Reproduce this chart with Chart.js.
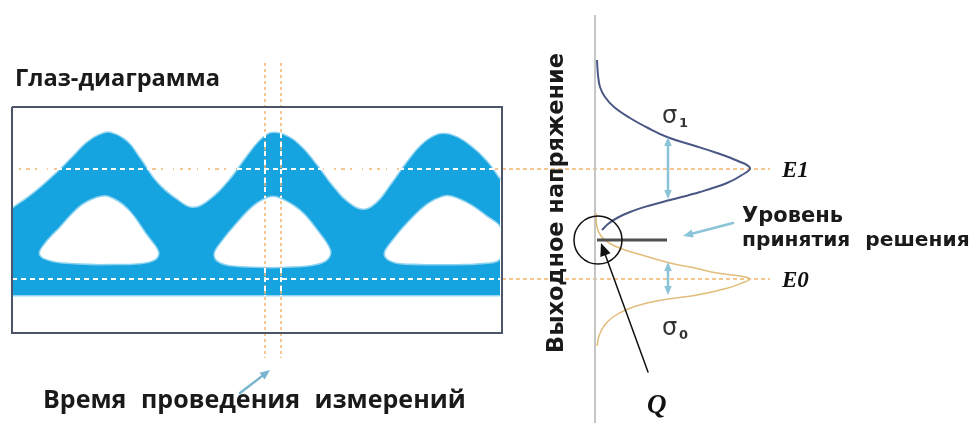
<!DOCTYPE html>
<html>
<head>
<meta charset="utf-8">
<script src="https://cdn.jsdelivr.net/npm/chart.js@4.4.0/dist/chart.umd.min.js"></script>
<style>
  html, body { margin: 0; padding: 0; background: #fff; }
  canvas { display: block; }
</style>
</head>
<body>
<canvas id="eyeChart" width="973" height="423"></canvas>
<script>
// --- data (x = time / position, y = output voltage, screen-like units) ---
const eyeTop = [
  {x:12,y:209},{x:33,y:194},{x:57,y:173},{x:73,y:157},{x:87,y:143},{x:100,y:135},{x:110,y:133},
  {x:127,y:142},{x:140,y:159},{x:157,y:183},{x:177,y:200},{x:193,y:208},{x:210,y:200},{x:230,y:180},
  {x:247,y:157},{x:262,y:139},{x:273,y:133},{x:288,y:137},{x:302,y:148},{x:317,y:166},{x:332,y:186},
  {x:347,y:202},{x:363,y:210},{x:377,y:203},{x:392,y:184},{x:407,y:163},{x:421,y:146},{x:433,y:137},
  {x:443,y:134},{x:456,y:137},{x:470,y:146},{x:486,y:161},{x:500,y:180}
];
const eyeBottom = 295;

const eyeHole1 = [
  {x:100,y:264},{x:60,y:262},{x:44,y:258},{x:40,y:253},{x:46,y:243},{x:60,y:228},{x:80,y:207},
  {x:97,y:198},{x:108,y:197},{x:127,y:209},{x:147,y:236},{x:158,y:252},{x:155,y:259},{x:140,y:263},{x:100,y:264}
];
const eyeHole2 = [
  {x:273,y:267},{x:230,y:265},{x:217,y:260},{x:215,y:253},{x:222,y:242},{x:235,y:226},{x:253,y:207},
  {x:268,y:198},{x:278,y:198},{x:300,y:211},{x:318,y:232},{x:330,y:251},{x:326,y:260},{x:310,y:265},{x:273,y:267}
];
const eyeHole3 = [
  {x:443,y:264},{x:400,y:263},{x:388,y:259},{x:385,y:253},{x:392,y:242},{x:407,y:224},{x:427,y:205},
  {x:443,y:197},{x:452,y:197},{x:470,y:205},{x:487,y:217},{x:500,y:228},{x:500,y:258},{x:480,y:263},{x:443,y:264}
];

const sigma1Curve = [
  {x:597,y:60},{x:598,y:75},{x:600,y:87},{x:605,y:97},{x:614,y:107},{x:630,y:118},{x:648,y:128},
  {x:667,y:137},{x:692,y:145},{x:717,y:153},{x:738,y:161},{x:750,y:168},{x:742,y:175},{x:727,y:183},
  {x:700,y:192},{x:670,y:200},{x:648,y:206},{x:630,y:212},{x:617,y:218},{x:608,y:224},{x:602,y:230}
];
const sigma0Curve = [
  {x:596,y:213},{x:597,y:227},{x:601,y:236},{x:609,y:243},{x:622,y:249},{x:645,y:256},{x:670,y:263},
  {x:695,y:268},{x:717,y:273},{x:740,y:276},{x:750,y:279},{x:742,y:283},{x:728,y:288},{x:697,y:295},
  {x:668,y:299},{x:647,y:303},{x:628,y:309},{x:613,y:317},{x:604,y:326},{x:599,y:336},{x:597,y:346}
];

const levelNames = ['E1', 'E0'];
const levelValues = [169, 279];
const sampleTimes = [265, 281];
const decisionLevel = 240;

// --- colours ---
const BAND = '#16a4e0';
const BAND_SOFT = 'rgba(22,164,224,0.45)';
const ORANGE = '#f1b46e';
const LIGHT = '#8bc3d9';

const line = (data, extra) => Object.assign({
  data, borderWidth: 1.5, pointRadius: 0, tension: 0, fill: false
}, extra);

const datasets = [];

// orange level lines, under the eye band
levelValues.forEach(v => datasets.push(line([{x:12,y:v},{x:770,y:v}],
  {borderColor: ORANGE, borderDash: [4, 3], order: 30})));

// eye band and the openings (soft borders imitate the blurred edges)
datasets.push(line(eyeTop, {borderColor: BAND_SOFT, backgroundColor: BAND, borderWidth: 3,
  tension: 0.4, fill: {value: eyeBottom}, order: 20}));
datasets.push(line([{x:12,y:eyeBottom},{x:500,y:eyeBottom}], {borderColor: BAND_SOFT, borderWidth: 3, order: 20}));
[eyeHole1, eyeHole2, eyeHole3].forEach(h => datasets.push(line(h, {
  borderColor: 'rgba(255,255,255,0.5)', backgroundColor: '#fff', borderWidth: 3, tension: 0.35, fill: 'shape', order: 19})));

// sampling-time lines
sampleTimes.forEach(t => datasets.push(line([{x:t,y:63},{x:t,y:358}],
  {borderColor: ORANGE, borderDash: [3, 3], order: 18})));

// white dashed lines on the band
levelValues.forEach(v => datasets.push(line([{x:12,y:v},{x:500,y:v}],
  {borderColor: '#fff', borderDash: [5, 4], borderWidth: 2, order: 15})));
sampleTimes.forEach(t => {
  datasets.push(line([{x:t,y:133},{x:t,y:198}], {borderColor: '#fff', borderDash: [5, 4], borderWidth: 2, order: 15}));
  datasets.push(line([{x:t,y:268},{x:t,y:296}], {borderColor: '#fff', borderDash: [5, 4], borderWidth: 2, order: 15}));
});

// frame of the eye diagram
datasets.push(line([{x:12,y:107},{x:502,y:107},{x:502,y:333},{x:12,y:333},{x:12,y:107}],
  {borderColor: '#4b5468', borderWidth: 2, order: 10}));

// voltage axis
datasets.push(line([{x:595,y:15},{x:595,y:423}], {borderColor: '#c6c6c6', borderWidth: 2, order: 10}));

// distributions
datasets.push(line(sigma1Curve, {borderColor: '#4a5784', borderWidth: 2, tension: 0.4, order: 5}));
datasets.push(line(sigma0Curve, {borderColor: '#e2bd7c', borderWidth: 1.5, tension: 0.4, order: 5}));

// decision level
datasets.push(line([{x:597,y:decisionLevel},{x:667,y:decisionLevel}], {borderColor: '#505050', borderWidth: 3, order: 4}));

// Q circle
datasets.push({data: [{x:598,y:decisionLevel}], showLine: false, pointRadius: 24, pointHoverRadius: 24,
  pointBorderColor: '#111', pointBorderWidth: 1.5, pointBackgroundColor: 'rgba(0,0,0,0)', order: 3});

// arrows and labels
const arrows = [
  {from: [668, 150], to: [668, 137], color: LIGHT, w: 2.5, head: 9, both: [668, 199]},
  {from: [668, 272], to: [668, 262], color: LIGHT, w: 2.5, head: 9, both: [668, 295]},
  {from: [733, 223], to: [683, 236], color: LIGHT, w: 2.5, head: 10},
  {from: [240, 393], to: [270, 370], color: '#7ab5cf', w: 2.5, head: 10},
  {from: [648, 372], to: [601, 243], color: '#111', w: 1.5, head: 13}
];

function drawHead(ctx, x, y, ang, size) {
  ctx.beginPath();
  ctx.moveTo(x, y);
  ctx.lineTo(x - size * Math.cos(ang) + size * 0.42 * Math.sin(ang), y - size * Math.sin(ang) - size * 0.42 * Math.cos(ang));
  ctx.lineTo(x - size * Math.cos(ang) - size * 0.42 * Math.sin(ang), y - size * Math.sin(ang) + size * 0.42 * Math.cos(ang));
  ctx.closePath();
  ctx.fill();
}

function fitFont(ctx, text, style, family, width) {
  ctx.font = style + ' 20px ' + family;
  const w = ctx.measureText(text).width;
  return style + ' ' + (20 * width / w).toFixed(2) + 'px ' + family;
}

const overlay = {
  id: 'overlay',
  afterDatasetsDraw(chart) {
    const ctx = chart.ctx;
    const sx = chart.scales.x, sy = chart.scales.y;
    const px = v => sx.getPixelForValue(v), py = v => sy.getPixelForValue(v);

    arrows.forEach(a => {
      ctx.save();
      ctx.strokeStyle = a.color; ctx.fillStyle = a.color; ctx.lineWidth = a.w; ctx.lineCap = 'round';
      const x2 = px(a.to[0]), y2 = py(a.to[1]);
      let x1 = px(a.from[0]), y1 = py(a.from[1]);
      if (a.both) { x1 = px(a.both[0]); y1 = py(a.both[1]); }
      const ang = Math.atan2(y2 - y1, x2 - x1);
      ctx.beginPath();
      ctx.moveTo(x1 + (a.both ? Math.cos(ang) * a.head * 0.8 : 0), y1 + (a.both ? Math.sin(ang) * a.head * 0.8 : 0));
      ctx.lineTo(x2 - Math.cos(ang) * a.head * 0.8, y2 - Math.sin(ang) * a.head * 0.8);
      ctx.stroke();
      drawHead(ctx, x2, y2, ang, a.head);
      if (a.both) drawHead(ctx, x1, y1, ang + Math.PI, a.head);
      ctx.restore();
    });

    ctx.save();
    ctx.textBaseline = 'alphabetic';
    ctx.textAlign = 'left';
    ctx.fillStyle = '#1a1a1a';

    ctx.font = fitFont(ctx, 'Глаз-диаграмма', 'bold', '"Open Sans"', 205);
    ctx.fillText('Глаз-диаграмма', 15, 86);

    if ('wordSpacing' in ctx) ctx.wordSpacing = '8px';
    ctx.font = fitFont(ctx, 'Время проведения измерений', 'bold', '"Open Sans"', 427);
    ctx.fillText('Время проведения измерений', 43, 408);

    ctx.font = fitFont(ctx, 'принятия решения', 'bold', '"DejaVu Sans"', 228);
    ctx.fillText('принятия решения', 742, 246);
    if ('wordSpacing' in ctx) ctx.wordSpacing = '0px';
    ctx.font = fitFont(ctx, 'Уровень', 'bold', '"DejaVu Sans"', 101);
    ctx.fillText('Уровень', 742, 222);

    ctx.save();
    ctx.translate(563, 203);
    ctx.rotate(-Math.PI / 2);
    ctx.textAlign = 'center';
    ctx.font = fitFont(ctx, 'Выходное напряжение', 'bold', '"DejaVu Sans"', 300);
    ctx.fillText('Выходное напряжение', 0, 0);
    ctx.restore();

    ctx.fillStyle = '#111';
    ctx.font = 'italic bold 23px "Liberation Serif"';
    levelNames.forEach((n, i) => ctx.fillText(n, 782, py(levelValues[i]) + 8));
    ctx.font = 'italic bold 27px "Liberation Serif"';
    ctx.fillText('Q', 647, 413);

    ctx.fillStyle = '#333';
    ctx.font = '24px "DejaVu Sans"';
    ctx.fillText('σ', 662, 123);
    ctx.fillText('σ', 662, 335);
    ctx.font = 'bold 13px "DejaVu Sans"';
    ctx.fillText('1', 679, 127);
    ctx.fillText('0', 679, 339);
    ctx.restore();
  }
};

new Chart(document.getElementById('eyeChart'), {
  type: 'line',
  data: { datasets },
  options: {
    responsive: false,
    animation: false,
    events: [],
    layout: { padding: 0, autoPadding: false },
    elements: { point: { radius: 0 } },
    scales: {
      x: { type: 'linear', min: 0, max: 973, display: false },
      y: { type: 'linear', min: 0, max: 423, reverse: true, display: false }
    },
    plugins: { legend: { display: false }, tooltip: { enabled: false } }
  },
  plugins: [overlay]
});
</script>
</body>
</html>
